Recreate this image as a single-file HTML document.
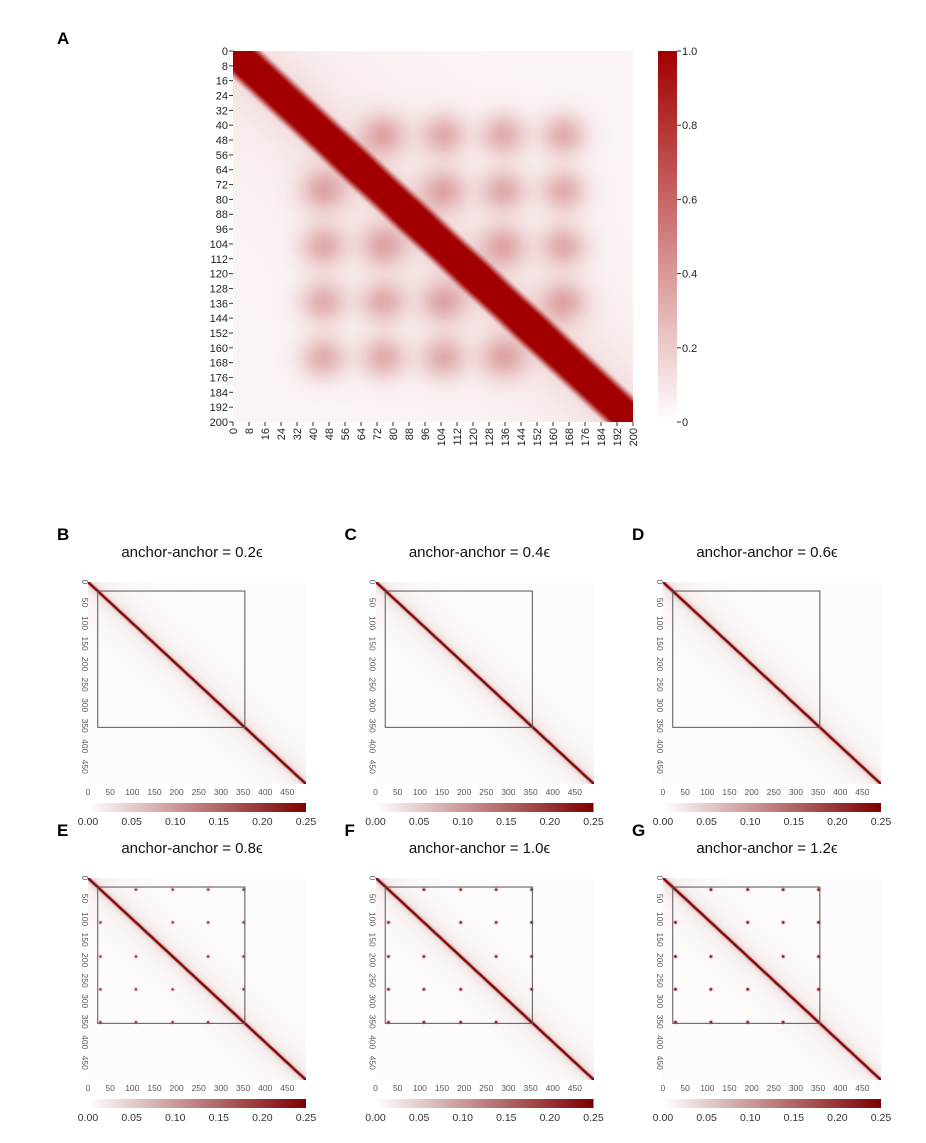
<!DOCTYPE html>
<html><head><meta charset="utf-8">
<style>
body{margin:0;background:#fff;width:926px;height:1143px;position:relative;overflow:hidden;font-family:"Liberation Sans",sans-serif}
canvas{position:absolute}
svg{position:absolute;left:0;top:0}
</style></head>
<body>
<canvas id="main" width="400" height="371" style="left:233px;top:51px"></canvas>
<canvas id="mainbar" width="19" height="371" style="left:658px;top:51px"></canvas>
<div id="small"></div>
<svg id="ov" width="926" height="1143"></svg>
<script>
// ---- data ----
const mainTicks = [0,8,16,24,32,40,48,56,64,72,80,88,96,104,112,120,128,136,144,152,160,168,176,184,192,200];
const mainAnchors = [45,75,105,135,165];
const mainBarTicks = [0,0.2,0.4,0.6,0.8,1.0];
const mainBarLabels = ["0","0.2","0.4","0.6","0.8","1.0"];
const panelLetters = ["B","C","D","E","F","G"];
const panelEps = ["0.2","0.4","0.6","0.8","1.0","1.2"];
const panelDotStrength = [0,0,0,0.3,0.4,0.45];
const smallAnchors = [27,107,190,270,350];
const smallTicks = [0,50,100,150,200,250,300,350,400,450];
const smallBarTicks = [0,0.05,0.10,0.15,0.20,0.25];
const smallBarLabels = ["0.00","0.05","0.10","0.15","0.20","0.25"];
const boxRange = [22,354];

const NS="http://www.w3.org/2000/svg";
const ov=document.getElementById('ov');
function S(tag,attrs,txt){const e=document.createElementNS(NS,tag);for(const k in attrs)e.setAttribute(k,attrs[k]);if(txt!==undefined)e.textContent=txt;ov.appendChild(e);return e;}

// ---- main heatmap ----
const mx0=233,my0=51,mw=400,mh=371,mMax=200;
const mxs=v=>mx0+v/mMax*mw, mys=v=>my0+v/mMax*mh;
function mainVal(i,j){
  const d=Math.abs(i-j);
  let v=0.04+0.06*Math.exp(-d/50)+0.15*Math.exp(-d/12);
  const band=d<9?1:Math.exp(-Math.pow((d-9)/4.5,2));
  v=Math.max(v,band);
  for(const a of mainAnchors)for(const b of mainAnchors){if(a===b)continue;
    v+=0.27*Math.exp(-((i-a)*(i-a)+(j-b)*(j-b))/(2*8*8));}
  return Math.min(1,v);
}
function cmapMain(t){return [255-(255-162)*t,255-255*t,255-255*t];}
(function(){const c=document.getElementById('main').getContext('2d');const im=c.createImageData(mw,mh);
for(let y=0;y<mh;y++)for(let x=0;x<mw;x++){const v=mainVal(x/mw*mMax,y/mh*mMax);const col=cmapMain(v);const k=(y*mw+x)*4;im.data[k]=col[0];im.data[k+1]=col[1];im.data[k+2]=col[2];im.data[k+3]=255;}
c.putImageData(im,0,0);
const b=document.getElementById('mainbar').getContext('2d');for(let y=0;y<mh;y++){const col=cmapMain(1-y/(mh-1));b.fillStyle=`rgb(${col.map(Math.round)})`;b.fillRect(0,y,19,1);}})();
S('text',{x:57,y:44,'font-size':17,'font-weight':'bold',},'A');
mainTicks.forEach(t=>{
  const y=mys(t);
  let e=S('line',{x1:mx0-4,x2:mx0,y1:y,y2:y,stroke:'#333'});
  e=S('text',{x:mx0-5,y:y+4,'font-size':11,'text-anchor':'end',fill:'#222'},String(t));
  const x=mxs(t);
  e=S('line',{x1:x,x2:x,y1:my0+mh,y2:my0+mh+4,stroke:'#333'});
  e=S('text',{x:0,y:0,'font-size':11,'text-anchor':'end',fill:'#222',transform:`translate(${x+4},${my0+mh+6}) rotate(-90)`},String(t));
});
mainBarTicks.forEach((t,i)=>{const y=my0+mh-t*mh;
  let e=S('line',{x1:677,x2:681,y1:y,y2:y,stroke:'#333'});
  e=S('text',{x:682,y:y+4,'font-size':11,fill:'#222'},mainBarLabels[i]);});

// ---- small panels ----
const pw=218,ph=202,sMax=492;
function cmapSmall(t){t=Math.min(1,Math.max(0,t/0.25));return [255-(255-125)*t,255-255*t,255-255*t];}
panelLetters.forEach((L,p)=>{
  const col=p%3,row=Math.floor(p/3);
  const x0=88+col*287.5,y0=row?878:582;
  const cv=document.createElement('canvas');cv.width=pw;cv.height=ph;cv.style.left=x0+'px';cv.style.top=y0+'px';
  
  
  document.getElementById('small').appendChild(cv);
  const c=cv.getContext('2d');const im=c.createImageData(pw,ph);
  const ds=panelDotStrength[p];
  for(let y=0;y<ph;y++)for(let x=0;x<pw;x++){
    const i=x/pw*sMax,j=y/ph*sMax;const d=Math.abs(i-j);
    let v=0.004;
    v+=0.5*Math.exp(-(d/3.2)*(d/3.2))+0.05*Math.exp(-d/9)+0.014*Math.exp(-d/60);
    if(ds>0){for(const a of smallAnchors)for(const b of smallAnchors){if(a===b)continue;const r2=(i-a)*(i-a)+(j-b)*(j-b);if(r2<80)v+=ds*Math.exp(-r2/8);}}
    const cc=cmapSmall(v);const k=(y*pw+x)*4;im.data[k]=cc[0];im.data[k+1]=cc[1];im.data[k+2]=cc[2];im.data[k+3]=255;}
  c.putImageData(im,0,0);
  const xs=v=>x0+v/sMax*pw, ys=v=>y0+v/sMax*ph;
  let e;
  e=S('text',{x:x0-31,y:y0-42,'font-size':17,'font-weight':'bold'},L);
  e=S('text',{x:x0+104,y:y0-25,'font-size':15,'text-anchor':'middle',fill:'#111'},'anchor-anchor = '+panelEps[p]+'ϵ');
  e=S('rect',{x:xs(boxRange[0]),y:ys(boxRange[0]),width:xs(boxRange[1])-xs(boxRange[0]),height:ys(boxRange[1])-ys(boxRange[0]),fill:'none',stroke:'#555','stroke-width':1});
  smallTicks.forEach(t=>{
    e=S('text',{x:0,y:0,'font-size':8.5,'text-anchor':'middle',fill:'#555',transform:`translate(${x0-6},${ys(t)}) rotate(90)`},String(t));
    e=S('text',{x:xs(t),y:y0+ph+11,'font-size':8.5,'text-anchor':'middle',fill:'#555'},String(t));
  });
  const by=y0+ph+19;
  const g=S('defs',{});g.innerHTML=`<linearGradient id="g${p}"><stop offset="0" stop-color="#fff"/><stop offset="1" stop-color="#7d0000"/></linearGradient>`;
  e=S('rect',{x:x0,y:by,width:pw,height:9,fill:`url(#g${p})`});
  smallBarTicks.forEach((t,i)=>{const x=x0+t/0.25*pw;
    e=S('text',{x:x,y:by+22,'font-size':10.5,'text-anchor':'middle',fill:'#333'},smallBarLabels[i]);});
});
</script>
</body></html>
